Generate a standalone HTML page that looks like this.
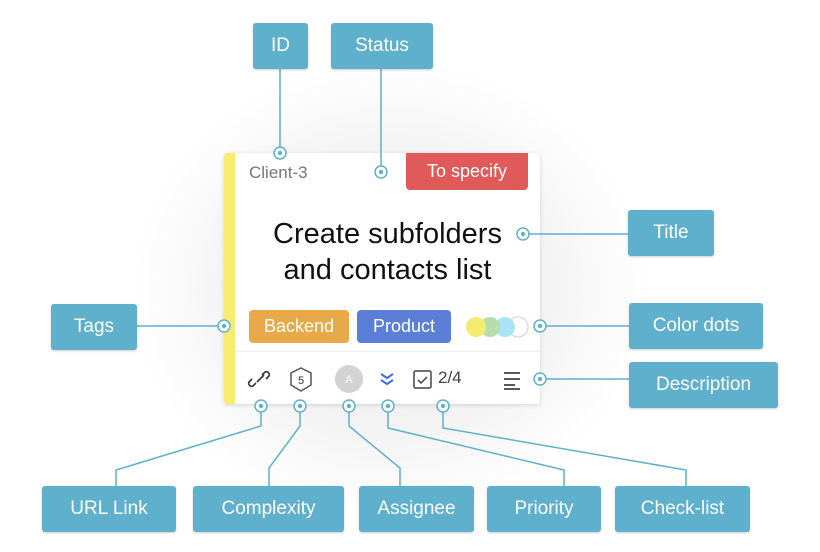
<!DOCTYPE html>
<html><head><style>
body{margin:0;width:820px;height:552px;background:#fff;position:relative;overflow:hidden;font-family:"Liberation Sans",sans-serif}
.glow{position:absolute;left:130px;top:60px;width:520px;height:460px;border-radius:50%;background:radial-gradient(ellipse at center,#e9e9e9 0%,#f4f4f4 45%,#fff 70%)}
.b{position:absolute;background:#5fb0cc;color:#fff;font-size:19px;display:flex;align-items:center;justify-content:center;border-radius:3px;box-shadow:0 1px 2px rgba(0,0,0,.2)}
.card{position:absolute;left:224px;top:153px;width:316px;height:251px;background:#fff;border-radius:4px;box-shadow:0 1px 4px rgba(0,0,0,.15);overflow:hidden}
.t{position:absolute;color:#fff;font-size:18px;display:flex;align-items:center;justify-content:center;border-radius:4px}
svg{position:absolute;left:0;top:0}
</style></head><body>
<div class="glow"></div>
<div class="card">
<div style="position:absolute;left:0;top:0;width:11px;height:251px;background:#f7ec6e"></div>
<div style="position:absolute;left:25px;top:10px;font-size:17px;color:#777">Client-3</div>
<div class="t" style="left:182px;top:0;width:122px;height:37px;background:#e05a5a;border-radius:0 0 4px 4px">To specify</div>
<div style="position:absolute;left:11px;width:305px;top:63px;text-align:center;font-size:29px;line-height:36px;color:#111">Create subfolders<br>and contacts list</div>
<div class="t" style="left:25px;top:157px;width:100px;height:33px;background:#e8a948">Backend</div>
<div class="t" style="left:133px;top:157px;width:94px;height:33px;background:#5b7fd6">Product</div>
<div style="position:absolute;left:11px;right:0;top:198px;height:1px;background:#eee"></div>
<div style="position:absolute;left:214px;top:215px;font-size:17px;color:#444">2/4</div>
</div>
<svg width="820" height="552">
<g fill="none" stroke="#5fb0cc" stroke-width="1.5">
<path d="M280 69V147M381 69V166M529 234H628M137 326H218M546 326H629M546 379H629"/>
<path d="M261 412V426L116 470V486M300 412V426L269 468V486M349 412V426L400 468V486M388 412V428L564 470V486M443 412V428L686 470V486"/>
</g>
<g fill="#fff" stroke="#5fb0cc" stroke-width="1.5">
<circle cx="280" cy="153" r="6"/><circle cx="381" cy="172" r="6"/><circle cx="523" cy="234" r="6"/><circle cx="224" cy="326" r="6"/><circle cx="540" cy="326" r="6"/><circle cx="540" cy="379" r="6"/>
<circle cx="261" cy="406" r="6"/><circle cx="300" cy="406" r="6"/><circle cx="349" cy="406" r="6"/><circle cx="388" cy="406" r="6"/><circle cx="443" cy="406" r="6"/>
</g>
<g fill="#5fb0cc"><circle cx="280" cy="153" r="2.2"/><circle cx="381" cy="172" r="2.2"/><circle cx="523" cy="234" r="2.2"/><circle cx="224" cy="326" r="2.2"/><circle cx="540" cy="326" r="2.2"/><circle cx="540" cy="379" r="2.2"/><circle cx="261" cy="406" r="2.2"/><circle cx="300" cy="406" r="2.2"/><circle cx="349" cy="406" r="2.2"/><circle cx="388" cy="406" r="2.2"/><circle cx="443" cy="406" r="2.2"/></g>
<circle cx="518" cy="327" r="10" fill="#fff" stroke="#ddd" stroke-width="1.5"/>
<circle cx="505" cy="327" r="10" fill="#a8e4f5"/>
<circle cx="490" cy="327" r="10" fill="#b7dcae"/>
<circle cx="476" cy="327" r="10" fill="#f5ea72"/>
<g fill="none" stroke="#333" stroke-width="1.5">
<path d="M256 383l-3 3a3 3 0 0 1-4-4l3-3M262 375l3-3a3 3 0 0 1 4 4l-3 3M257 382l7-7" stroke-width="1.6"/>
<polygon points="301,368 311,373 311,385 301,391 291,385 291,373" stroke="#555"/>
<rect x="414" y="371" width="17" height="17" rx="1.5" stroke="#444"/>
<path d="M418 380l3 3 6-6" stroke="#444"/>
<path d="M504 373H520M504 379H520M504 385H515M504 389H520" stroke="#222"/>
<path d="M381 374l6 4 6-4M381 380l6 4 6-4" stroke="#3a6ee8" stroke-width="2"/>
</g>
<text x="301" y="384" font-size="11" text-anchor="middle" fill="#333" font-family="Liberation Sans">5</text>
<circle cx="349" cy="379" r="14" fill="#d3d3d3"/>
<text x="349" y="383" font-size="11" text-anchor="middle" fill="#fff" font-family="Liberation Sans">A</text>
</svg>
<div class="b" style="left:253px;top:23px;width:55px;height:46px">ID</div>
<div class="b" style="left:331px;top:23px;width:102px;height:46px">Status</div>
<div class="b" style="left:628px;top:210px;width:86px;height:46px">Title</div>
<div class="b" style="left:51px;top:304px;width:86px;height:46px">Tags</div>
<div class="b" style="left:629px;top:303px;width:134px;height:46px">Color dots</div>
<div class="b" style="left:629px;top:362px;width:149px;height:46px">Description</div>
<div class="b" style="left:42px;top:486px;width:134px;height:46px">URL Link</div>
<div class="b" style="left:193px;top:486px;width:151px;height:46px">Complexity</div>
<div class="b" style="left:359px;top:486px;width:115px;height:46px">Assignee</div>
<div class="b" style="left:487px;top:486px;width:114px;height:46px">Priority</div>
<div class="b" style="left:615px;top:486px;width:135px;height:46px">Check-list</div>
</body></html>
